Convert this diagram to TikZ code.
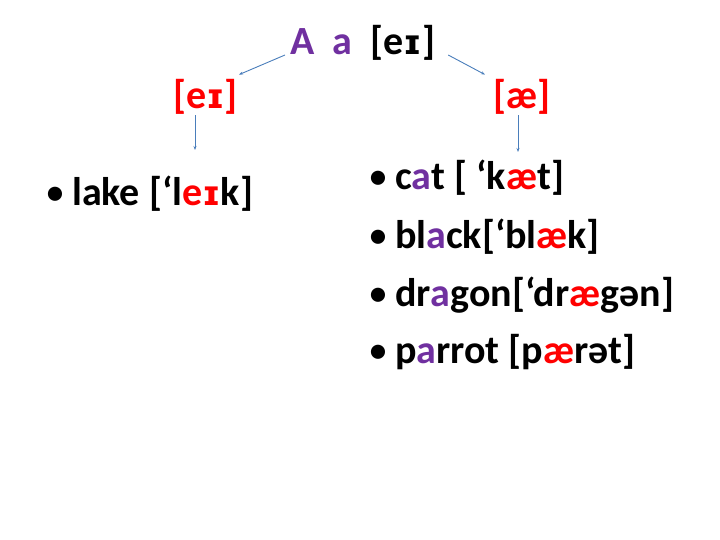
\documentclass[tikz,border=0pt]{standalone}
\usepackage{fontspec}
\setmainfont{Carlito}
\newfontfamily\ipafont{DejaVu Sans}
\usetikzlibrary{arrows.meta}
\definecolor{vowel}{RGB}{112,48,160}
\definecolor{sound}{RGB}{255,0,0}
\definecolor{linkblue}{RGB}{74,126,187}
\newcommand{\bul}{\makebox[27pt][l]{\mdseries•}}
\newcommand{\ipaI}{{\ipafont\fontsize{34}{40}\selectfont ɪ}}
\tikzset{
  word/.style={anchor=base west, inner sep=0pt, font=\fontsize{40}{48}\selectfont\bfseries},
  arrowline/.style={draw=linkblue, line width=0.9pt, -{Stealth[length=4pt,width=3pt]}}
}
\begin{document}
\begin{tikzpicture}[x=1pt,y=-1pt]
  \useasboundingbox (0,0) rectangle (720,540);
  % letter and its two sounds
  \node[word] (title) at (290,55) {\textcolor{vowel}{A~~a}~~[e\ipaI]};
  \node[word,text=sound] (ei) at (173,109) {[e\ipaI]};
  \node[word,text=sound] (ae) at (493,109) {[æ]};
  % examples
  \node[word] (lake) at (45,206) {\bul lake [‘l\textcolor{sound}{e\ipaI}k]};
  \node[word] (cat) at (368,190) {\bul c\textcolor{vowel}{a}t [ ‘k\textcolor{sound}{æ}t]};
  \node[word] (black) at (368,248) {\bul bl\textcolor{vowel}{a}ck[‘bl\textcolor{sound}{æ}k]};
  \node[word] (dragon) at (368,306) {\bul dr\textcolor{vowel}{a}gon[‘dr\textcolor{sound}{æ}gən]};
  \node[word] (parrot) at (368,363) {\bul p\textcolor{vowel}{a}rrot [p\textcolor{sound}{æ}rət]};
  % arrows
  \coordinate (eiend) at (195,150);
  \coordinate (aeend) at (518,152);
  \draw[arrowline] ([xshift=-5pt]title.base west) -- ([xshift=1pt,yshift=5pt]ei.north east);
  \draw[arrowline] ([xshift=13pt]title.base east) -- ([xshift=-8pt,yshift=5pt]ae.north west);
  \draw[arrowline] (ei.south -| eiend) -- (eiend);
  \draw[arrowline] (ae.south -| aeend) -- (aeend);
\end{tikzpicture}
\end{document}
